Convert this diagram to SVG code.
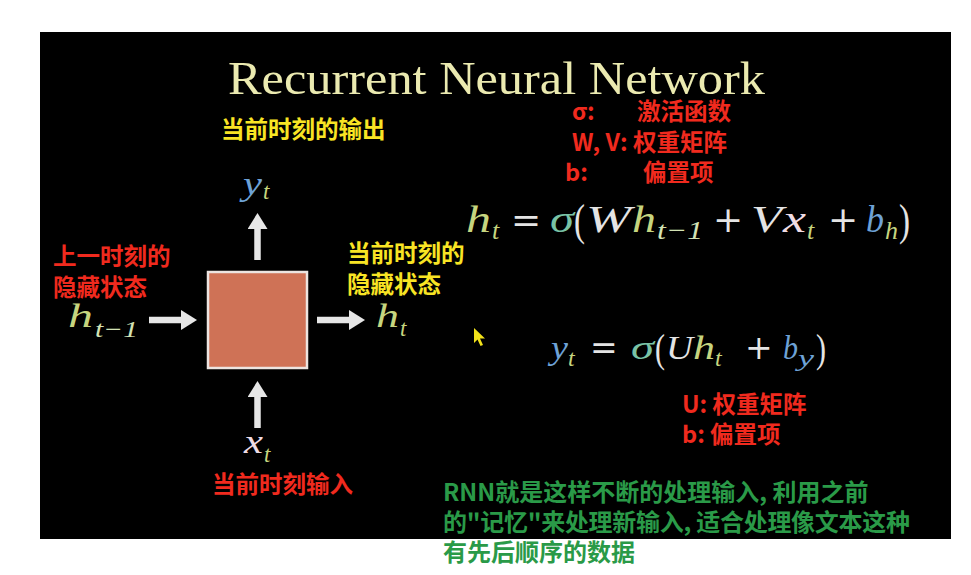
<svg xmlns="http://www.w3.org/2000/svg" width="971" height="575" viewBox="0 0 971 575">
  <defs>
    <marker id="head" viewBox="0 0 16 20" refX="1" refY="10" markerWidth="16" markerHeight="20" markerUnits="userSpaceOnUse" orient="auto">
      <path d="M0,0 L16,10 L0,20 z" fill="#e6e6e6"/>
    </marker>
  </defs>
  <style>
    .cjk { font-family: "Noto Sans CJK SC", "Noto Sans", sans-serif; font-weight: 700; font-size: 23.5px; }
    .red { fill: #f02a1e; }
    .yel { fill: #f8e424; }
    .grn { fill: #2a9a48; font-size: 24px; }
    .m { font-family: "Liberation Serif", serif; font-style: italic; }
    .r { font-family: "Liberation Serif", serif; }
    .op { font-family: "DejaVu Serif", serif; }
    .hg { fill: #c6d57f; }
    .hs { fill: #d3e2b4; }
    .bl { fill: #6ea2d6; }
    .wh { fill: #e4e4e4; }
    .pk { fill: #efdce4; }
    .tl { fill: #79c3a6; }
    .conn { stroke: #e6e6e6; stroke-width: 6.5; fill: none; marker-end: url(#head); }
  </style>
  <rect x="0" y="0" width="971" height="575" fill="#ffffff"/>
  <rect x="40" y="32" width="911" height="507" fill="#000000"/>

  <g id="title">
    <text class="r" x="228" y="94" font-size="46" fill="#ebeab0" textLength="537" lengthAdjust="spacingAndGlyphs">Recurrent Neural Network</text>
  </g>

  <g id="rnn-cell">
    <rect x="208" y="272" width="99" height="96" fill="#cf7256" stroke="#ece4e0" stroke-width="2.5"/>
  </g>

  <g id="connectors">
    <line class="conn" x1="149" y1="320" x2="182" y2="320"/>
    <line class="conn" x1="317" y1="320" x2="350" y2="320"/>
    <line class="conn" x1="257.5" y1="260" x2="257.5" y2="228"/>
    <line class="conn" x1="257.5" y1="428" x2="257.5" y2="396"/>
  </g>

  <g id="label-output">
    <text class="cjk yel" x="221" y="138">当前时刻的输出</text>
    <text class="m bl" x="243" y="195" font-size="33" textLength="19" lengthAdjust="spacingAndGlyphs">y</text>
    <text class="m hg" x="263" y="199" font-size="23">t</text>
  </g>

  <g id="label-prev-hidden">
    <text class="cjk red" x="53" y="265">上一时刻的</text>
    <text class="cjk red" x="53" y="296">隐藏状态</text>
    <text class="m hg" x="68" y="327" font-size="33" textLength="25" lengthAdjust="spacingAndGlyphs">h</text>
    <text class="m hs" x="95" y="337" font-size="23" textLength="43" lengthAdjust="spacingAndGlyphs">t−1</text>
  </g>

  <g id="label-cur-hidden">
    <text class="cjk yel" x="347" y="262">当前时刻的</text>
    <text class="cjk yel" x="347" y="293">隐藏状态</text>
    <text class="m hg" x="376" y="327" font-size="33" textLength="23" lengthAdjust="spacingAndGlyphs">h</text>
    <text class="m hg" x="400" y="336" font-size="23">t</text>
  </g>

  <g id="label-input">
    <text class="m pk" x="244" y="453" font-size="33" textLength="19" lengthAdjust="spacingAndGlyphs">x</text>
    <text class="m hg" x="264" y="462" font-size="23">t</text>
    <text class="cjk red" x="212" y="493">当前时刻输入</text>
  </g>

  <g id="legend-top">
    <text class="cjk red" x="572" y="120">σ:</text>
    <text class="cjk red" x="637" y="120">激活函数</text>
    <text class="cjk red" x="572" y="151">W, V: 权重矩阵</text>
    <text class="cjk red" x="565" y="181">b:</text>
    <text class="cjk red" x="643" y="181">偏置项</text>
  </g>

  <g id="equation-h">
    <text class="m hg" x="466" y="232" font-size="38" textLength="25" lengthAdjust="spacingAndGlyphs">h</text>
    <text class="m hg" x="492" y="239" font-size="26">t</text>
    <text class="op wh" x="511" y="232" font-size="36">=</text>
    <text class="m tl" x="550" y="232" font-size="38" textLength="24" lengthAdjust="spacingAndGlyphs">σ</text>
    <text class="r wh" x="574" y="235" font-size="45" textLength="11" lengthAdjust="spacingAndGlyphs">(</text>
    <text class="m wh" x="586" y="232" font-size="38" textLength="45" lengthAdjust="spacingAndGlyphs">W</text>
    <text class="m hg" x="632" y="232" font-size="38" textLength="24" lengthAdjust="spacingAndGlyphs">h</text>
    <text class="m hs" x="657" y="239" font-size="26" textLength="46" lengthAdjust="spacingAndGlyphs">t−1</text>
    <text class="op wh" x="713" y="232" font-size="36">+</text>
    <text class="m wh" x="751" y="232" font-size="38" textLength="31" lengthAdjust="spacingAndGlyphs">V</text>
    <text class="m pk" x="783" y="232" font-size="38" textLength="23" lengthAdjust="spacingAndGlyphs">x</text>
    <text class="m hg" x="807" y="239" font-size="26">t</text>
    <text class="op wh" x="828" y="232" font-size="36">+</text>
    <text class="m bl" x="866" y="232" font-size="38" textLength="18" lengthAdjust="spacingAndGlyphs">b</text>
    <text class="m hg" x="885" y="239" font-size="26" textLength="13" lengthAdjust="spacingAndGlyphs">h</text>
    <text class="r wh" x="899" y="235" font-size="45" textLength="11" lengthAdjust="spacingAndGlyphs">)</text>
  </g>

  <g id="equation-y">
    <text class="m bl" x="551" y="359" font-size="34" textLength="17" lengthAdjust="spacingAndGlyphs">y</text>
    <text class="m hg" x="568" y="366" font-size="24">t</text>
    <text class="op wh" x="590" y="359" font-size="33">=</text>
    <text class="m tl" x="631" y="359" font-size="34" textLength="23" lengthAdjust="spacingAndGlyphs">σ</text>
    <text class="r wh" x="655" y="362" font-size="41" textLength="10" lengthAdjust="spacingAndGlyphs">(</text>
    <text class="m wh" x="666" y="359" font-size="34" textLength="27" lengthAdjust="spacingAndGlyphs">U</text>
    <text class="m hg" x="693" y="359" font-size="34" textLength="22" lengthAdjust="spacingAndGlyphs">h</text>
    <text class="m hg" x="715" y="366" font-size="24">t</text>
    <text class="op wh" x="745" y="359" font-size="33">+</text>
    <text class="m bl" x="783" y="359" font-size="34" textLength="15" lengthAdjust="spacingAndGlyphs">b</text>
    <text class="m bl" x="798" y="366" font-size="24" textLength="16" lengthAdjust="spacingAndGlyphs">y</text>
    <text class="r wh" x="816" y="362" font-size="41" textLength="10" lengthAdjust="spacingAndGlyphs">)</text>
  </g>

  <g id="legend-bottom">
    <text class="cjk red" x="682" y="413">U: 权重矩阵</text>
    <text class="cjk red" x="682" y="443">b: 偏置项</text>
  </g>

  <g id="note">
    <text class="cjk grn" x="443" y="501">RNN就是这样不断的处理输入, 利用之前</text>
    <text class="cjk grn" x="443" y="531" textLength="467" lengthAdjust="spacing">的"记忆"来处理新输入, 适合处理像文本这种</text>
    <text class="cjk grn" x="443" y="561">有先后顺序的数据</text>
  </g>

  <g id="cursor">
    <polygon points="474,328 474,343 477.5,339.5 480.5,346 483,345 480,338.5 485,338.5" fill="#f2e21a"/>
  </g>
</svg>
